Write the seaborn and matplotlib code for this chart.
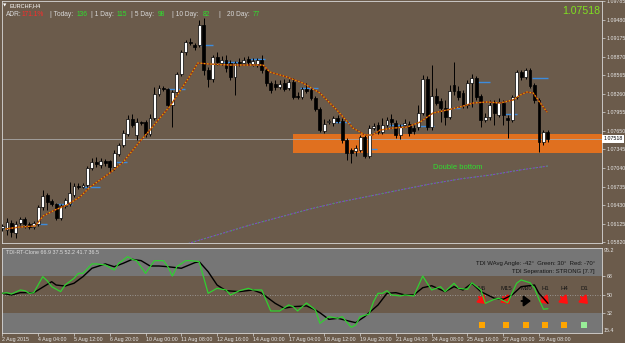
import matplotlib
matplotlib.use("Agg")
import matplotlib.pyplot as plt
import matplotlib.transforms as mtrans
from matplotlib.patches import Rectangle
import numpy as np
import pandas as pd
import seaborn as sns

# ---------------- data ----------------
symbol = "EURCHF,H4"
current_price = 1.07518

open_ = [1.06054, 1.06022, 1.06137, 1.05972, 1.06137, 1.06202, 1.06120, 1.06071, 1.06120, 1.06399,
         1.06597, 1.06498, 1.06449, 1.06219, 1.06416, 1.06449, 1.06597, 1.06745, 1.06728, 1.06761,
         1.07041, 1.07139, 1.07090, 1.07156, 1.07156, 1.07057, 1.07271, 1.07419, 1.07599, 1.07845,
         1.07582, 1.07796, 1.07796, 1.07599, 1.07862, 1.08256, 1.08355, 1.08339, 1.08076, 1.08289,
         1.08585, 1.08946, 1.09111, 1.09062, 1.09062, 1.09390, 1.08651, 1.08503, 1.08864, 1.08766,
         1.08815, 1.08766, 1.08536, 1.08782, 1.08766, 1.08832, 1.08749, 1.08749, 1.08815, 1.08651,
         1.08437, 1.08421, 1.08371, 1.08437, 1.08355, 1.08454, 1.08223, 1.08207, 1.08339, 1.08322,
         1.08191, 1.08010, 1.07648, 1.07796, 1.07780, 1.07862, 1.07813, 1.07501, 1.07336, 1.07320,
         1.07336, 1.07550, 1.07238, 1.07697, 1.07747, 1.07632, 1.07747, 1.07845, 1.07780, 1.07582,
         1.07747, 1.07763, 1.07697, 1.07714, 1.07944, 1.08503, 1.07714, 1.08223, 1.08142, 1.08026,
         1.07878, 1.08404, 1.08306, 1.08273, 1.08076, 1.08437, 1.08519, 1.08223, 1.07829, 1.07878,
         1.08109, 1.07911, 1.08109, 1.07862, 1.07829, 1.08207, 1.08618, 1.08536, 1.08651, 1.08404,
         1.08158, 1.07468, 1.07632]
high = [1.06120, 1.06219, 1.06186, 1.06170, 1.06235, 1.06235, 1.06153, 1.06170, 1.06432, 1.06679,
        1.06630, 1.06531, 1.06465, 1.06449, 1.06547, 1.06810, 1.06794, 1.06794, 1.06794, 1.07073,
        1.07205, 1.07221, 1.07205, 1.07188, 1.07172, 1.07336, 1.07451, 1.07665, 1.07911, 1.07928,
        1.07862, 1.07813, 1.07829, 1.07928, 1.08371, 1.08404, 1.08388, 1.08355, 1.08322, 1.08618,
        1.08979, 1.09144, 1.09177, 1.09095, 1.09472, 1.09506, 1.08700, 1.08897, 1.08946, 1.08881,
        1.08897, 1.08815, 1.08799, 1.08848, 1.08864, 1.08881, 1.08848, 1.08848, 1.08897, 1.08684,
        1.08470, 1.08486, 1.08486, 1.08503, 1.08503, 1.08519, 1.08289, 1.08371, 1.08437, 1.08355,
        1.08223, 1.08043, 1.07845, 1.07845, 1.07895, 1.07911, 1.07862, 1.07533, 1.07369, 1.07419,
        1.07582, 1.07582, 1.07747, 1.07780, 1.07796, 1.07862, 1.07878, 1.07928, 1.07829, 1.07763,
        1.07845, 1.07813, 1.07747, 1.08076, 1.08569, 1.08552, 1.08733, 1.08355, 1.08191, 1.08158,
        1.08404, 1.08782, 1.08388, 1.08322, 1.08486, 1.08585, 1.08552, 1.08256, 1.07944, 1.08158,
        1.08158, 1.08191, 1.08158, 1.07911, 1.08240, 1.08651, 1.08651, 1.08684, 1.08684, 1.08437,
        1.08191, 1.07665, 1.07665]
low = [1.06005, 1.05939, 1.05907, 1.05890, 1.06104, 1.06054, 1.06038, 1.06038, 1.06087, 1.06350,
       1.06350, 1.06416, 1.06186, 1.06186, 1.06383, 1.06416, 1.06564, 1.06695, 1.06712, 1.06728,
       1.07008, 1.07057, 1.07041, 1.07073, 1.06975, 1.07008, 1.07238, 1.07386, 1.07566, 1.07714,
       1.07501, 1.07747, 1.07550, 1.07566, 1.07829, 1.08223, 1.08306, 1.08043, 1.07714, 1.08256,
       1.08552, 1.08897, 1.09062, 1.08979, 1.09029, 1.08569, 1.08371, 1.08454, 1.08733, 1.08733,
       1.08618, 1.08486, 1.08240, 1.08717, 1.08749, 1.08733, 1.08717, 1.08700, 1.08602, 1.08388,
       1.08273, 1.08322, 1.08339, 1.08306, 1.08322, 1.08174, 1.08174, 1.08174, 1.08273, 1.08158,
       1.07977, 1.07632, 1.07615, 1.07763, 1.07730, 1.07780, 1.07451, 1.07172, 1.07123, 1.07238,
       1.07304, 1.07205, 1.07205, 1.07665, 1.07599, 1.07599, 1.07714, 1.07730, 1.07533, 1.07517,
       1.07714, 1.07566, 1.07599, 1.07665, 1.07911, 1.07665, 1.07665, 1.08076, 1.07796, 1.07747,
       1.07845, 1.08240, 1.08158, 1.08026, 1.08026, 1.08043, 1.08158, 1.07714, 1.07796, 1.07829,
       1.07747, 1.07878, 1.07747, 1.07533, 1.07796, 1.08174, 1.08486, 1.08503, 1.08355, 1.08109,
       1.07304, 1.07419, 1.07468]
close = [1.06087, 1.06153, 1.05989, 1.06120, 1.06202, 1.06120, 1.06071, 1.06137, 1.06399, 1.06580,
         1.06482, 1.06449, 1.06219, 1.06416, 1.06515, 1.06630, 1.06745, 1.06728, 1.06761, 1.07041,
         1.07139, 1.07106, 1.07156, 1.07123, 1.07057, 1.07287, 1.07419, 1.07615, 1.07845, 1.07747,
         1.07796, 1.07780, 1.07599, 1.07862, 1.08256, 1.08355, 1.08339, 1.08076, 1.08289, 1.08585,
         1.08946, 1.09111, 1.09095, 1.09029, 1.09390, 1.08651, 1.08503, 1.08864, 1.08782, 1.08815,
         1.08684, 1.08536, 1.08766, 1.08766, 1.08815, 1.08782, 1.08799, 1.08815, 1.08651, 1.08437,
         1.08322, 1.08371, 1.08421, 1.08339, 1.08454, 1.08207, 1.08207, 1.08339, 1.08306, 1.08191,
         1.08010, 1.07665, 1.07763, 1.07813, 1.07862, 1.07813, 1.07501, 1.07287, 1.07287, 1.07369,
         1.07550, 1.07238, 1.07697, 1.07730, 1.07632, 1.07747, 1.07829, 1.07796, 1.07582, 1.07714,
         1.07780, 1.07615, 1.07648, 1.07944, 1.08503, 1.07714, 1.08223, 1.08109, 1.08026, 1.07878,
         1.08306, 1.08306, 1.08207, 1.08076, 1.08437, 1.08519, 1.08207, 1.07829, 1.07878, 1.08076,
         1.07944, 1.08125, 1.07911, 1.07829, 1.08207, 1.08618, 1.08536, 1.08651, 1.08388, 1.08158,
         1.07468, 1.07632, 1.07518]

# short moving average (red/yellow dotted), read at vertices
ma_idx = [0.6, 3.9, 7.3, 9.1, 11.7, 14.4, 17.3, 19.6, 24.0, 27.0, 30.8, 33.0, 35.2, 37.5, 39.7,
          41.9, 43.7, 46.4, 50.9, 55.4, 58.3, 59.8, 63.6, 67.2, 71.0, 74.8, 78.4, 81.1, 82.7, 84.5,
          87.4, 90.5, 93.4, 96.3, 99.4, 102.3, 105.3, 108.4, 111.3, 114.2, 115.8, 117.3, 118.7,
          120.3, 121.8]
ma_val = [1.06038, 1.06071, 1.06087, 1.06252, 1.06350, 1.06432, 1.06564, 1.06728, 1.06958, 1.07139,
          1.07484, 1.07665, 1.07862, 1.08059, 1.08306, 1.08552, 1.08766, 1.08749, 1.08733, 1.08733,
          1.08733, 1.08618, 1.08536, 1.08437, 1.08273, 1.07993, 1.07697, 1.07582, 1.07582, 1.07665,
          1.07697, 1.07714, 1.07796, 1.07944, 1.07993, 1.08043, 1.08109, 1.08125, 1.08109, 1.08158,
          1.08240, 1.08289, 1.08273, 1.08109, 1.07961]

# long moving average (purple dotted)
ma_long_idx = [40.8, 41.9, 48.7, 55.4, 62.1, 68.8, 75.5, 82.2, 88.9, 95.6, 102.3, 109.1, 115.8, 122.0]
ma_long_val = [1.05775, 1.05808, 1.05956, 1.06104, 1.06235, 1.06367, 1.06482, 1.06580, 1.06679,
               1.06777, 1.06860, 1.06925, 1.07008, 1.07073]

# short blue level segments
level_start = [-0.5, 7.9, 12.2, 18.0, 24.7, 37.0, 44.2, 48.7, 55.4, 66.6, 74.4, 81.8, 86.5, 93.4,
               99.4, 106.1, 111.7, 118.5]
level_end = [1.0, 10.0, 15.5, 21.8, 27.9, 40.8, 47.1, 52.7, 58.7, 70.6, 77.7, 83.8, 89.8, 96.5,
             102.3, 109.1, 115.1, 122.0]
level_price = [1.06054, 1.06120, 1.06449, 1.06728, 1.07139, 1.08339, 1.09062, 1.08782, 1.08832,
               1.08355, 1.07796, 1.07353, 1.07747, 1.07730, 1.08026, 1.08454, 1.07928, 1.08519]

zone_start = 65.0
zone_top = 1.07599
zone_bottom = 1.07287
zone_label = "Double bottom"

price_ticks = [1.09785, 1.09480, 1.09175, 1.08870, 1.08565, 1.08260, 1.07955, 1.07650,
               1.07345, 1.07040, 1.06735, 1.06430, 1.06125, 1.05820]

date_idx = [0, 8, 16, 24, 32, 40, 48, 56, 64, 72, 80, 88, 96, 104, 112, 120]
date_labels = ["2 Aug 2015", "4 Aug 04:00", "5 Aug 12:00", "6 Aug 20:00", "10 Aug 00:00",
               "11 Aug 08:00", "12 Aug 16:00", "14 Aug 00:00", "17 Aug 04:00", "18 Aug 12:00",
               "19 Aug 20:00", "21 Aug 04:00", "24 Aug 08:00", "25 Aug 16:00", "27 Aug 00:00",
               "28 Aug 08:00"]

adr_parts = ["ADR:", "171.1%", "| Today:", "136", "| 1 Day:", "115", "| 5 Day:", "98",
             "| 10 Day:", "82", "|", "20 Day:", "77"]

# TDI indicator (lower panel)
tdi_green_idx = [0, 1, 2, 4, 5, 6, 7, 9, 10, 11, 13, 14, 16, 17, 18, 20, 21, 23, 25, 26, 28, 29, 30,
                 32, 34, 36, 37, 38, 39, 41, 42, 44, 46, 48, 50, 51, 53, 55, 56, 58, 60, 62, 64, 65,
                 66, 68, 70, 71, 73, 75, 76, 78, 79, 80, 82, 83, 84, 85, 86, 87, 89, 90, 92, 94, 95,
                 96, 98, 99, 101, 102, 104, 105, 107, 108, 110, 111, 113, 115, 116, 118, 119, 120,
                 121, 122]
tdi_green_val = [51.4, 52.0, 50.7, 54.6, 53.9, 51.4, 52.0, 67.5, 63.5, 57.8, 53.0, 59.4, 65.9, 70.7,
                 70.7, 79.8, 79.8, 78.8, 73.9, 80.4, 86.8, 84.2, 83.0, 70.7, 83.0, 83.0, 77.1, 68.1,
                 77.1, 83.0, 83.0, 82.0, 51.4, 56.2, 54.6, 49.8, 53.9, 56.2, 54.6, 54.6, 34.3, 34.3,
                 40.1, 38.5, 34.3, 42.0, 35.3, 22.4, 28.8, 27.2, 28.8, 18.5, 20.8, 28.8, 31.3, 43.3,
                 51.4, 51.4, 53.9, 49.8, 48.8, 49.8, 48.8, 68.1, 61.1, 54.6, 57.8, 53.0, 61.1, 56.2,
                 55.2, 61.6, 54.6, 41.7, 45.6, 46.6, 42.3, 61.1, 64.3, 61.6, 56.3, 45.6, 36.0, 36.5]
tdi_black_idx = [0, 2, 4, 7, 11, 12, 14, 16, 18, 20, 23, 25, 27, 29, 31, 33, 35, 37, 40, 43, 44, 46,
                 48, 50, 53, 56, 58, 61, 63, 65, 68, 70, 71, 73, 75, 78, 79, 81, 84, 86, 88, 90, 92,
                 94, 96, 99, 101, 103, 105, 107, 110, 112, 114, 116, 119, 120, 122]
tdi_black_val = [51.4, 49.8, 52.0, 52.0, 62.6, 59.4, 58.4, 61.1, 67.5, 75.6, 79.8, 77.1, 80.4, 84.2,
                 83.0, 77.8, 77.8, 77.1, 75.6, 81.0, 82.0, 72.3, 59.4, 53.9, 53.0, 54.6, 51.4, 41.7,
                 36.9, 38.5, 39.2, 35.3, 32.6, 26.2, 27.2, 24.0, 23.0, 28.8, 40.1, 51.4, 52.0, 49.8,
                 49.8, 56.8, 58.7, 53.0, 57.8, 54.6, 61.1, 53.0, 46.6, 45.6, 49.8, 57.8, 59.4, 51.4,
                 41.7]
tdi_title = "TDI-RT-Clone 66.9 37.5 52.2 41.7 36.5"
tdi_angle_text = "TDI WAvg Angle: -42°  Green: 30°  Red: -70°"
tdi_sep_text = "TDI Seperation: STRONG [7.7]"
tdi_levels_mid = [68, 50, 32]
tdi_top, tdi_bottom = 95.2, 15.4
timeframes = ["M5", "M15", "M30", "H1", "H4", "D1"]
tf_arrow = ["down", "down", "right", "down", "down", "down"]
tf_square = ["orange", "orange", "orange", "orange", "orange", "green"]

# ---------------- styling ----------------
sns.set_theme(style="white")
plt.rcParams['font.family'] = ['Liberation Sans', 'DejaVu Sans']

W, H = 625, 343
BG = '#6b5b4b'
GRAYBAND = '#767676'
FRAME = '#d8d8d8'
TXT = '#e6e6e6'
LIME = '#2ee02e'

fig = plt.figure(figsize=(W / 100, H / 100), dpi=100)
fig.patch.set_facecolor(BG)

ax = fig.add_axes([2 / W, 1 - 243 / H, 600 / W, 242 / H])
ax2 = fig.add_axes([2 / W, 1 - 333 / H, 600 / W, 85 / H])
for a in (ax, ax2):
    a.set_facecolor(BG)
    a.grid(False)
    for s in a.spines.values():
        s.set_color(FRAME)
        s.set_linewidth(0.6)
    a.set_xlim(-0.11, 134.1)

# ---------------- main price panel ----------------
df = pd.DataFrame({'open': open_, 'high': high, 'low': low, 'close': close})
df['idx'] = np.arange(len(df))
bull = (df['close'] >= df['open']).values
body_lo = np.minimum(df['open'], df['close'])
body_h = (df['close'] - df['open']).abs()

ax.add_patch(Rectangle((zone_start, zone_bottom), 200, zone_top - zone_bottom,
                       facecolor='#e0701f', edgecolor='none', zorder=1))
ax.axhline(current_price, color='#a8a8a8', lw=0.6, zorder=1.5)

ax.hlines(level_price, level_start, level_end, color='#3d8bdc', lw=1.0, zorder=2)

sns.lineplot(x=ma_long_idx, y=ma_long_val, ax=ax, color='#7a4fc8', lw=0.8,
             linestyle=(0, (2, 1)), zorder=2.5)
sns.lineplot(x=ma_long_idx, y=ma_long_val, ax=ax, color='#3fbf3f', lw=0.8,
             linestyle=(1.5, (1, 4)), zorder=2.6)

ax.vlines(df['idx'], df['low'], df['high'], color='black', lw=0.7, zorder=3)
ax.bar(df['idx'], body_h, bottom=body_lo, width=0.64,
       color=np.where(bull, 'white', 'black'), edgecolor='black', linewidth=0.5, zorder=4)

sns.lineplot(x=ma_idx, y=ma_val, ax=ax, color='#9a2a10', lw=0.95, zorder=5)
sns.lineplot(x=ma_idx, y=ma_val, ax=ax, color='#e8a800', lw=0.95,
             linestyle=(0, (1, 1.5)), zorder=5.1)

ax.set_ylim(1.05808, 1.09785)
ax.set_xticks([])
ax.set_xlabel('')
ax.set_ylabel('')
ax.set_yticks(price_ticks)
ax.set_yticklabels([f'{v:.5f}' for v in price_ticks])
ax.yaxis.tick_right()
ax.tick_params(axis='y', which='both', length=2, width=0.5, color=FRAME, labelsize=3.8,
               labelcolor=TXT, pad=1.5, direction='out', left=False, right=True)

blend = mtrans.blended_transform_factory(ax.transAxes, ax.transData)
ax.text(1.0 + 1.5 / 600, current_price, f'{current_price:.5f}', transform=blend, ha='left',
        va='center', fontsize=3.8, color='black', clip_on=False, zorder=10,
        bbox=dict(boxstyle='square,pad=0.3', fc='white', ec='none'))

ax.text(96.4, 1.07046, zone_label, fontsize=5.4, color=LIME, ha='left', va='center', zorder=6)

# header texts
fig.text(2.5 / W, 1 - 5.5 / H, "▼", fontsize=3.2, color='white', ha='left', va='center',
         family='DejaVu Sans')
fig.text(9 / W, 1 - 5.5 / H, symbol, fontsize=4.0, color='white', ha='left', va='center')
adr_x = [6.0, 21.5, 50, 77, 91, 117, 131, 158, 172, 203, 218, 227, 253]
adr_col = ['#d8d8d8', '#ff2a2a', '#d8d8d8', LIME, '#d8d8d8', LIME, '#d8d8d8', LIME,
           '#d8d8d8', LIME, '#d8d8d8', '#d8d8d8', LIME]
for t, x, c in zip(adr_parts, adr_x, adr_col):
    fig.text(x / W, 1 - 15 / H, t, fontsize=4.8, color=c, ha='left', va='center')
fig.text(600 / W, 1 - 11.5 / H, f'{current_price:.5f}', fontsize=7.6, color='#7fe020',
         ha='right', va='center')

# ---------------- TDI panel ----------------
ax2.set_ylim(13.0, tdi_top)
ax2.axhspan(68, 100, color=GRAYBAND, lw=0, zorder=0.5)
ax2.axhspan(0, 32, color=GRAYBAND, lw=0, zorder=0.5)
ax2.axhline(50, color='#a8a8a8', lw=0.6, ls=(0, (1, 2)), zorder=0.8)

sns.lineplot(x=tdi_black_idx, y=tdi_black_val, ax=ax2, color='black', lw=1.0, zorder=3)
sns.lineplot(x=tdi_green_idx, y=tdi_green_val, ax=ax2, color='#30d030', lw=0.9, zorder=3.2)

ax2.set_xlabel('')
ax2.set_ylabel('')
ax2.set_yticks(tdi_levels_mid)
ax2.set_yticklabels([str(v) for v in tdi_levels_mid])
ax2.yaxis.tick_right()
ax2.tick_params(axis='y', length=2, width=0.5, color=FRAME, labelsize=3.8, labelcolor=TXT,
                pad=1.5, direction='out', left=False, right=True)
blend2 = mtrans.blended_transform_factory(ax2.transAxes, ax2.transData)
ax2.text(1.0 + 2 / 600, tdi_top, str(tdi_top), transform=blend2, ha='left', va='top',
         fontsize=3.8, color=TXT, clip_on=False)
ax2.text(1.0 + 2 / 600, tdi_bottom, str(tdi_bottom), transform=blend2, ha='left', va='center',
         fontsize=3.8, color=TXT, clip_on=False)

ax2.set_xticks(date_idx)
ax2.set_xticklabels(date_labels, ha='left')
ax2.tick_params(axis='x', length=2, width=0.5, color=FRAME, labelsize=3.8, labelcolor=TXT,
                pad=1.2, direction='out', bottom=True)

ax2.text(4 / 600, 1 - 4 / 85, tdi_title, transform=ax2.transAxes, fontsize=3.9,
         color='#dcdcdc', ha='left', va='center')

def fp(x, y):
    return (x / W, 1 - y / H)

ax2.text(*fp(595, 264), tdi_angle_text, transform=fig.transFigure, fontsize=4.3,
         color='#151515', ha='right', va='center', zorder=1)
ax2.text(*fp(595, 272), tdi_sep_text, transform=fig.transFigure, fontsize=4.3,
         color='#151515', ha='right', va='center', zorder=1)

tf_x = [482, 506, 526, 545, 564, 584]
for name, x, arr, sq in zip(timeframes, tf_x, tf_arrow, tf_square):
    ax2.text(*fp(x, 288), name, transform=fig.transFigure, fontsize=4.3, color='#151515',
             ha='center', va='center', zorder=1)
    if arr == 'down':
        ax2.annotate('', xy=fp(x + 4, 304), xytext=fp(x - 3, 297),
                     xycoords='figure fraction', textcoords='figure fraction',
                     arrowprops=dict(arrowstyle='-|>,head_length=0.6,head_width=0.45',
                                     mutation_scale=7, color='#ff1010', lw=1.5,
                                     shrinkA=0, shrinkB=0), zorder=2)
    else:
        ax2.annotate('', xy=fp(x + 5, 301), xytext=fp(x - 4.5, 301),
                     xycoords='figure fraction', textcoords='figure fraction',
                     arrowprops=dict(arrowstyle='-|>,head_length=0.6,head_width=0.45',
                                     mutation_scale=7, color='black', lw=1.4,
                                     shrinkA=0, shrinkB=0), zorder=2)
    col = '#ffa500' if sq == 'orange' else '#98ee98'
    fig.patches.append(Rectangle(fp(x - 2.8, 328), 5.6 / W, 5.6 / H, transform=fig.transFigure,
                                 facecolor=col, edgecolor='none', figure=fig))

fig.savefig('out.png', dpi=100, facecolor=BG)
